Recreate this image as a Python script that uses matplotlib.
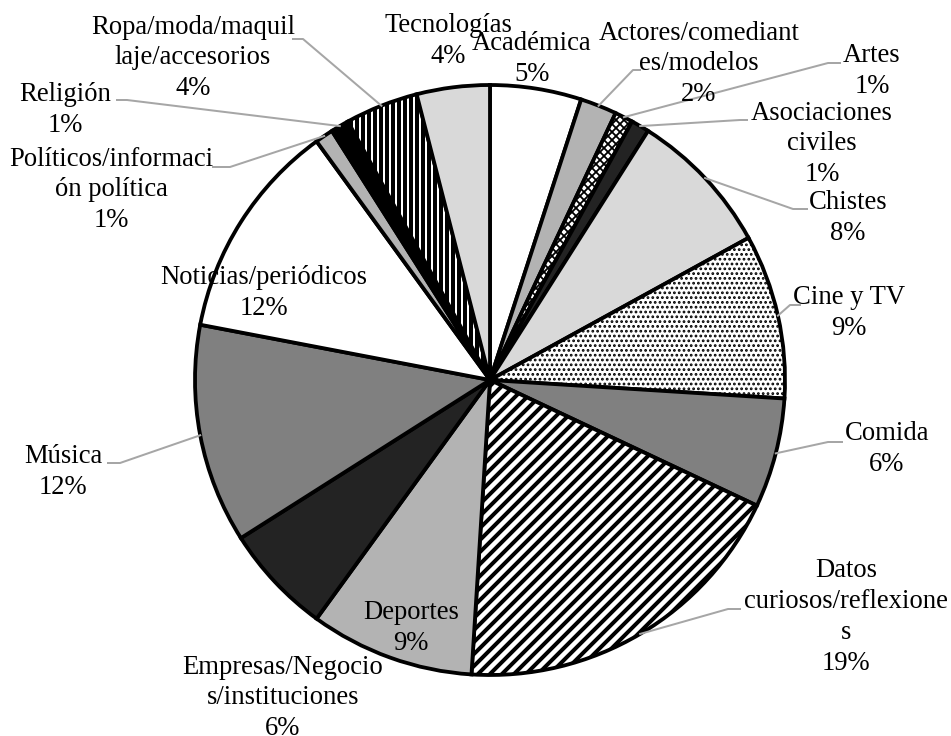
import numpy as np
import matplotlib.pyplot as plt

plt.rcParams['font.family'] = ['Liberation Serif', 'DejaVu Serif']
plt.rcParams['hatch.linewidth'] = 2.0

# datos
categorias = ['Académica', 'Actores/comediantes/modelos', 'Artes', 'Asociaciones civiles',
              'Chistes', 'Cine y TV', 'Comida', 'Datos curiosos/reflexiones', 'Deportes',
              'Empresas/Negocios/instituciones', 'Música', 'Noticias/periódicos',
              'Políticos/información política', 'Religión', 'Ropa/moda/maquillaje/accesorios',
              'Tecnologías']
porcentajes = [5, 2, 1, 1, 8, 9, 6, 19, 9, 6, 12, 12, 1, 1, 4, 4]
etiquetas = ['Académica', 'Actores/comediant\nes/modelos', 'Artes', 'Asociaciones\nciviles',
             'Chistes', 'Cine y TV', 'Comida', 'Datos\ncuriosos/reflexione\ns', 'Deportes',
             'Empresas/Negocio\ns/instituciones', 'Música', 'Noticias/periódicos',
             'Políticos/informaci\nón política', 'Religión', 'Ropa/moda/maquil\nlaje/accesorios',
             'Tecnologías']

# estilos
colores = ['white', '#b3b3b3', 'white', '#232323', '#d9d9d9', 'white', '#808080', 'white',
           '#b3b3b3', '#232323', '#808080', 'white', '#b3b3b3', 'black', 'white', '#d9d9d9']
tramas = [None, None, 'xxxxxx', None, None, '.....', None, '////', None, None, None, None,
          None, None, '||||', None]

# posicion de etiquetas en pixeles (centro)
pos_etiq = [(532, 59), (699, 64), (872, 71), (822, 144), (848, 218), (849, 313),
            (887, 449), (846, 617), (411, 628), (283, 698), (63, 472), (264, 293),
            (111, 190), (65, 110), (193, 58), (448, 41)]
# lineas guia: indice -> (codo, extremo)
guias = {1: ((633, 70), (640, 70)), 2: ((828, 63), (840, 63)), 3: ((740, 120), (747, 120)),
         4: ((793, 209), (807, 209)), 5: ((790, 305), (800, 305)), 6: ((828, 442), (842, 442)),
         7: ((728, 609), (740, 609)), 10: ((120, 463), (108, 463)), 12: ((230, 167), (213, 167)),
         13: ((127, 100), (117, 100)), 14: ((303, 39), (293, 39))}

W, H = 951, 736
CX, CY, R = 490, 380, 295


def px(p):
    return ((p[0] - CX) / R, (CY - p[1]) / R)


fig = plt.figure(figsize=(W / 144, H / 144), dpi=144)
ax = fig.add_axes([0, 0, 1, 1])
wedges, _ = ax.pie(porcentajes, colors=colores, startangle=90, counterclock=False,
                   radius=1, center=(0, 0),
                   wedgeprops=dict(edgecolor='black', linewidth=1.9))
for w, h in zip(wedges, tramas):
    if h:
        w.set_hatch(h)
        if h[0] in 'x.':
            try:
                w.set_hatch_linewidth(0.9)
            except AttributeError:
                pass

total = sum(porcentajes)
acum = np.cumsum([0] + porcentajes[:-1])
for i, (v, lab) in enumerate(zip(porcentajes, etiquetas)):
    x, y = px(pos_etiq[i])
    ax.text(x, y, f"{lab}\n{v}%", ha='center', va='center', fontsize=13.3,
            linespacing=1.3, zorder=5)
    if i in guias:
        ang = np.deg2rad(90 - 360 * (acum[i] + v / 2) / total)
        codo, fin = guias[i]
        xs = [np.cos(ang), px(codo)[0], px(fin)[0]]
        ys = [np.sin(ang), px(codo)[1], px(fin)[1]]
        ax.plot(xs, ys, color='#a6a6a6', linewidth=1.0, zorder=4)

ax.set_aspect('auto')
ax.set_xlim(-CX / R, (W - CX) / R)
ax.set_ylim(-(H - CY) / R, CY / R)
ax.axis('off')
fig.savefig('out.png', dpi=144, facecolor='white')
